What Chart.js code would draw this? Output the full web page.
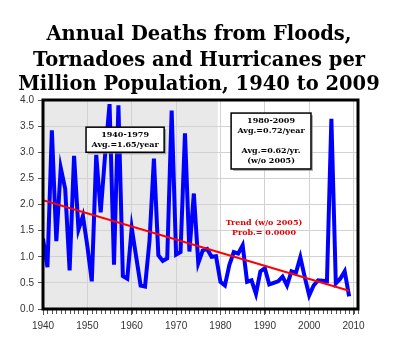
<!DOCTYPE html>
<html><head><meta charset="utf-8">
<script src="https://cdn.jsdelivr.net/npm/chart.js@4"></script>
<style>html,body{margin:0;padding:0;background:#fff}canvas{display:block}</style>
</head><body>
<canvas id="c" width="400" height="349"></canvas>
<script>
const years = [1940,1941,1942,1943,1944,1945,1946,1947,1948,1949,
  1950,1951,1952,1953,1954,1955,1956,1957,1958,1959,
  1960,1961,1962,1963,1964,1965,1966,1967,1968,1969,
  1970,1971,1972,1973,1974,1975,1976,1977,1978,1979,
  1980,1981,1982,1983,1984,1985,1986,1987,1988,1989,
  1990,1991,1992,1993,1994,1995,1996,1997,1998,1999,
  2000,2001,2002,2003,2004,2005,2006,2007,2008,2009];
const deathsPerMillion = [1.35,0.80,3.42,1.30,2.70,2.30,0.74,2.93,1.52,1.78,
  1.20,0.53,2.95,1.85,2.95,3.92,0.85,3.90,0.63,0.58,
  1.55,1.00,0.45,0.43,1.30,2.88,1.03,0.92,0.97,3.80,
  1.04,1.09,3.36,1.10,2.21,0.88,1.12,1.15,1.00,1.01,
  0.52,0.45,0.84,1.09,1.06,1.22,0.52,0.55,0.29,0.72,
  0.78,0.47,0.50,0.53,0.62,0.45,0.72,0.69,0.99,0.61,
  0.26,0.45,0.55,0.54,0.53,3.64,0.49,0.58,0.72,0.24];
const trendYears = [1940, 2009];
const trendValues = [2.08, 0.35];
const shadedYears = [1940, 1979.4];
const xTicks = [1940,1950,1960,1970,1980,1990,2000,2010];
const yTicks = [0,0.5,1,1.5,2,2.5,3,3.5,4];
const titleLines = ['Annual Deaths from Floods,','Tornadoes and Hurricanes per','Million Population, 1940 to 2009'];
const box1Lines = ['1940-1979','Avg.=1.65/year'];
const box2Lines = ['1980-2009','Avg.=0.72/year','','Avg.=0.62/yr.','(w/o 2005)'];
const trendLabelLines = ['Trend (w/o 2005)','Prob.= 0.0000'];

const seriesPts = years.map((yr,i)=>({x:yr,y:deathsPerMillion[i]}));
const trendPts = trendYears.map((yr,i)=>({x:yr,y:trendValues[i]}));

function drawBox(ctx, x, y, lines, yr0, yr1, vTop, vBot) {
  const l = x.getPixelForValue(yr0), r = x.getPixelForValue(yr1);
  const t = y.getPixelForValue(vTop), b = y.getPixelForValue(vBot);
  ctx.fillStyle = 'rgba(120,120,120,0.6)';
  ctx.fillRect(l+2, t+2, r-l, b-t);
  ctx.fillStyle = '#fff';
  ctx.fillRect(l, t, r-l, b-t);
  ctx.lineWidth = 1.5; ctx.strokeStyle = '#000';
  ctx.strokeRect(l, t, r-l, b-t);
  ctx.fillStyle = '#000';
  ctx.font = 'bold 8px "DejaVu Serif"';
  ctx.textAlign = 'center'; ctx.textBaseline = 'middle';
  const cy = (t+b)/2, sp = 10.2, cx = (l+r)/2;
  lines.forEach((s,i)=>{ ctx.fillText(s, cx, cy + (i-(lines.length-1)/2)*sp); });
}

const decor = {
  id:'decor',
  beforeDraw(chart){
    const {ctx, chartArea:a, scales:{x}} = chart;
    ctx.save();
    ctx.fillStyle='#fff'; ctx.fillRect(0,0,chart.width,chart.height);
    const x0 = x.getPixelForValue(shadedYears[0]), x1 = x.getPixelForValue(shadedYears[1]);
    ctx.fillStyle='#e9e9e9';
    ctx.fillRect(x0, a.top, x1-x0, a.bottom-a.top);
    ctx.restore();
  },
  afterDraw(chart){
    const {ctx, chartArea:a, scales:{x,y}} = chart;
    ctx.save();
    ctx.strokeStyle='#555'; ctx.lineWidth=1;
    for (let yr = Math.ceil(x.min); yr <= x.max; yr++) {
      const px = Math.round(x.getPixelForValue(yr))+0.5;
      ctx.beginPath(); ctx.moveTo(px, a.bottom); ctx.lineTo(px, a.bottom+5); ctx.stroke();
    }
    ctx.lineWidth=3; ctx.strokeStyle='#000';
    ctx.strokeRect(a.left, a.top, a.right-a.left, a.bottom-a.top);
    drawBox(ctx, x, y, box1Lines, 1949.7, 1967.3, 3.48, 3.0);
    drawBox(ctx, x, y, box2Lines, 1982.4, 2000.4, 3.75, 2.68);
    ctx.fillStyle='#e00000';
    ctx.font='bold 8px "DejaVu Serif"';
    ctx.textAlign='center'; ctx.textBaseline='middle';
    ctx.fillText(trendLabelLines[0], x.getPixelForValue(1989.8), y.getPixelForValue(1.655));
    ctx.fillText(trendLabelLines[1], x.getPixelForValue(1989.8), y.getPixelForValue(1.46));
    ctx.fillStyle='#000';
    ctx.font='bold 19.5px "DejaVu Serif"';
    ctx.textAlign='center'; ctx.textBaseline='alphabetic';
    const base = [40, 65.5, 90];
    titleLines.forEach((s,i)=>ctx.fillText(s, 199, base[i]));
    ctx.restore();
  }
};

new Chart(document.getElementById('c'), {
  type:'line',
  data:{datasets:[
    {data:seriesPts, borderColor:'#0000ff', borderWidth:4, pointRadius:0, tension:0, fill:false, order:2},
    {data:trendPts, borderColor:'#ff0000', borderWidth:2, pointRadius:0, tension:0, fill:false, order:1}
  ]},
  options:{
    responsive:false, animation:false, devicePixelRatio:1,
    layout:{padding:{top:100,right:42,left:0,bottom:0}},
    plugins:{legend:{display:false}, tooltip:{enabled:false}, title:{display:false}},
    scales:{
      x:{type:'linear', min:1940, max:2011,
        afterFit(s){ s.height = 40; },
        afterBuildTicks(s){ s.ticks = xTicks.map(v=>({value:v})); },
        ticks:{color:'#333', font:{family:'"Liberation Sans"', size:10}, padding:5, maxRotation:0, callback:v=>String(v)},
        grid:{color:'#d2d2d2', lineWidth:1, tickColor:'#555', tickLength:6},
        border:{display:false}
      },
      y:{min:0, max:4,
        afterFit(s){ s.width = 43; },
        afterBuildTicks(s){ s.ticks = yTicks.map(v=>({value:v})); },
        ticks:{color:'#333', font:{family:'"Liberation Sans"', size:10}, padding:4, callback:v=>Number(v).toFixed(1)},
        grid:{color:'#d2d2d2', lineWidth:1, tickColor:'#555', tickLength:5},
        border:{display:false}
      }
    }
  },
  plugins:[decor]
});
</script>
</body></html>
